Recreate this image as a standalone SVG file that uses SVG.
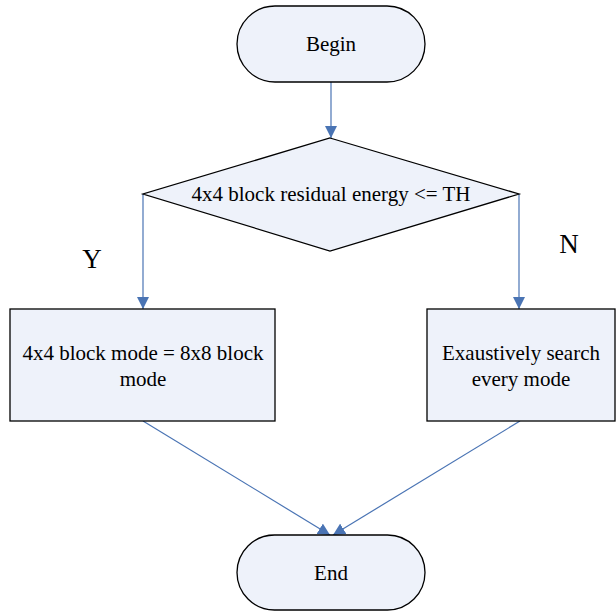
<svg xmlns="http://www.w3.org/2000/svg" width="616" height="612" viewBox="0 0 616 612">
  <style>
    .shape { fill: #eef2fa; stroke: #000; stroke-width: 1.3; }
    .lbl { font-family: "Liberation Serif", "Times New Roman", serif; font-size: 21px; fill: #000; text-anchor: middle; }
    .big { font-family: "Liberation Serif", "Times New Roman", serif; font-size: 27px; fill: #000; text-anchor: middle; }
    .conn { stroke: #4a74b4; stroke-width: 1.2; fill: none; marker-end: url(#arrow); }
  </style>
  <defs>
    <marker id="arrow" viewBox="0 0 10 10" refX="10" refY="5" markerWidth="12" markerHeight="12" markerUnits="userSpaceOnUse" orient="auto">
      <path d="M0,0 L10,5 L0,10 Z" fill="#4a74b4"/>
    </marker>
  </defs>
  <rect width="616" height="612" fill="#fff"/>

  <g id="connectors">
    <line class="conn" x1="331" y1="82" x2="331" y2="138"/>
    <polyline class="conn" points="143,194 143,309"/>
    <polyline class="conn" points="519,194 519,309"/>
    <line class="conn" x1="143" y1="421" x2="330" y2="535"/>
    <line class="conn" x1="520" y1="421" x2="333" y2="535"/>
  </g>

  <g id="begin">
    <rect class="shape" x="237" y="6" width="188" height="76" rx="38" ry="38"/>
    <text class="lbl" x="331" y="51">Begin</text>
  </g>

  <g id="decision">
    <polygon class="shape" points="330,138 519,194 330,251 143,194"/>
    <text class="lbl" x="331" y="201">4x4 block residual energy &lt;= TH</text>
  </g>

  <g id="yes-label">
    <text class="big" x="92" y="268">Y</text>
  </g>
  <g id="no-label">
    <text class="big" x="569" y="253">N</text>
  </g>

  <g id="same-mode">
    <rect class="shape" x="10" y="309" width="265" height="112"/>
    <text class="lbl" x="143" y="360">4x4 block mode = 8x8 block</text>
    <text class="lbl" x="143" y="386">mode</text>
  </g>

  <g id="full-search">
    <rect class="shape" x="427" y="309" width="188" height="112"/>
    <text class="lbl" x="521" y="360">Exaustively search</text>
    <text class="lbl" x="521" y="386">every mode</text>
  </g>

  <g id="end">
    <rect class="shape" x="237" y="535" width="188" height="75" rx="37.5" ry="37.5"/>
    <text class="lbl" x="331" y="580">End</text>
  </g>
</svg>
